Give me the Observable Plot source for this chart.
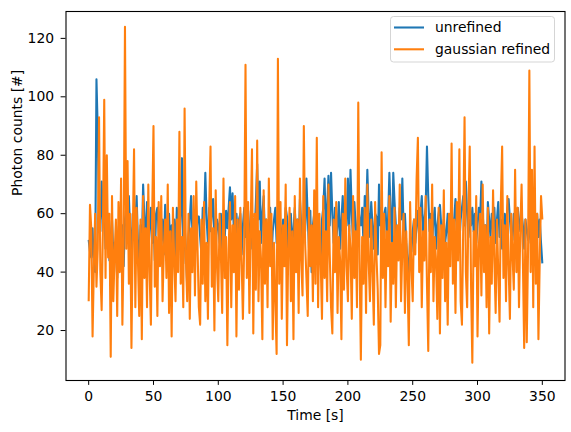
<!DOCTYPE html>
<html>
<head>
<meta charset="utf-8">
<script src="https://cdn.jsdelivr.net/npm/d3@7"></script>
<script src="https://cdn.jsdelivr.net/npm/@observablehq/plot@0.6"></script>
<style>
  html, body { margin: 0; padding: 0; background: #fff; }
  #chart { width: 571px; height: 432px; }
</style>
</head>
<body>
<div id="chart"></div>
<script>
const seriesNames = ["unrefined", "gaussian refined"];
const seriesColors = ["#1f77b4", "#ff7f0e"];
const xTicks = [0, 50, 100, 150, 200, 250, 300, 350];
const yTicks = [20, 40, 60, 80, 100, 120];
const xLabel = "Time [s]";
const yLabel = "Photon counts [#]";

const unrefined = [
  51, 47, 45, 55, 42, 40, 106, 88, 60, 54,
  71, 58, 62, 48, 55, 60, 44, 52, 58, 46,
  50, 50, 38, 54, 60, 47, 56, 42, 58, 62,
  50, 66, 54, 46, 60, 52, 58, 66, 50, 44,
  56, 48, 70, 58, 52, 64, 46, 55, 62, 50,
  58, 44, 60, 62, 54, 48, 51, 58, 46, 63,
  52, 54, 60, 48, 56, 50, 58, 44, 62, 54,
  50, 60, 79, 43, 56, 48, 35, 52, 58, 66,
  54, 48, 60, 52, 59, 59, 52, 46, 62, 56,
  74, 58, 50, 62, 54, 60, 65, 52, 48, 58,
  56, 50, 60, 45, 58, 52, 61, 55, 62, 69,
  58, 67, 54, 48, 60, 52, 58, 60, 46, 56,
  62, 52, 58, 61, 54, 48, 60, 56, 52, 64,
  77, 58, 71, 50, 60, 66, 52, 58, 48, 56,
  62, 44, 54, 58, 62, 50, 56, 60, 48, 54,
  58, 52, 62, 59, 46, 56, 60, 50, 54, 62,
  52, 58, 48, 65, 56, 50, 60, 54, 72, 58,
  48, 61, 40, 56, 60, 52, 57, 48, 52, 44,
  58, 62, 72, 54, 62, 73, 56, 74, 60, 50,
  62, 51, 56, 64, 48, 58, 66, 52, 60, 56,
  72, 54, 75, 60, 50, 64, 56, 48, 62, 58,
  56, 62, 50, 66, 58, 75, 60, 52, 64, 56,
  48, 60, 59, 46, 70, 56, 62, 54, 60, 62,
  52, 58, 74, 60, 50, 74, 64, 56, 48, 51,
  62, 58, 72, 54, 60, 50, 44, 38, 52, 47,
  54, 58, 50, 56, 61, 52, 60, 66, 54, 58,
  62, 83, 66, 54, 60, 50, 58, 62, 48, 56,
  60, 63, 56, 52, 58, 50, 54, 60, 48, 56,
  62, 52, 58, 65, 54, 60, 50, 58, 62, 66,
  56, 71, 60, 52, 58, 56, 62, 54, 60, 50,
  56, 62, 58, 71, 60, 52, 56, 44, 64, 58,
  52, 60, 56, 62, 50, 58, 64, 52, 58, 48,
  56, 60, 54, 62, 65, 58, 52, 51, 60, 56,
  50, 62, 58, 54, 60, 56, 48, 58, 54, 51,
  58, 50, 56, 62, 48, 54, 60, 52, 58, 50,
  43
];

const gaussianRefined = [
  30, 63, 55, 18, 42, 60, 35, 48, 93, 40,
  27, 55, 99, 38, 80, 45, 60, 11, 66, 30,
  46, 58, 25, 64, 40, 72, 22, 50, 124, 48,
  78, 36, 60, 14, 52, 82, 28, 62, 44, 25,
  58, 17, 66, 38, 55, 28, 70, 40, 22, 60,
  90, 35, 52, 25, 64, 42, 66, 30, 48, 58,
  38, 70, 26, 54, 18, 62, 44, 30, 58, 40,
  88, 36, 52, 28, 96, 45, 30, 60, 24, 55,
  40, 66, 32, 71, 48, 28, 22, 58, 36, 64,
  30, 50, 24, 62, 83, 35, 55, 20, 68, 42,
  30, 60, 46, 26, 72, 38, 52, 15, 48, 64,
  28, 56, 40, 66, 18, 58, 34, 62, 44, 24,
  50, 111, 38, 64, 26, 56, 82, 19, 60, 34,
  85, 30, 54, 44, 17, 68, 36, 58, 28, 72,
  42, 60, 17, 50, 30, 12, 113, 36, 64, 24,
  56, 42, 70, 15, 48, 62, 30, 54, 17, 66,
  40, 58, 26, 72, 44, 32, 90, 50, 38, 25,
  62, 42, 56, 30, 68, 36, 86, 28, 60, 44,
  24, 66, 38, 54, 30, 70, 46, 28, 19, 58,
  40, 64, 26, 52, 44, 17, 60, 34, 72, 42,
  30, 56, 48, 24, 66, 38, 54, 28, 98, 44,
  10, 52, 36, 62, 26, 70, 44, 30, 58, 40,
  22, 64, 46, 34, 12, 15, 81, 38, 60, 28,
  54, 42, 66, 23, 50, 36, 62, 28, 56, 44,
  70, 30, 48, 60, 26, 54, 38, 15, 64, 42,
  30, 58, 46, 72, 86, 40, 62, 28, 54, 44,
  66, 36, 13, 58, 40, 70, 30, 52, 44, 24,
  62, 19, 56, 38, 68, 30, 50, 22, 60, 42,
  84, 36, 58, 26, 64, 44, 82, 30, 22, 56,
  93, 40, 28, 62, 83, 36, 9, 54, 42, 66,
  18, 48, 60, 32, 70, 40, 56, 28, 62, 19,
  52, 36, 68, 44, 26, 58, 40, 23, 64, 83,
  38, 56, 30, 66, 42, 24, 60, 46, 34, 75,
  40, 62, 28, 54, 70, 44, 14, 58, 16, 48,
  109, 40, 75, 28, 83, 36, 60, 17, 44, 66,
  58
];

const allSeries = [unrefined, gaussianRefined];
const table = [];
allSeries.forEach((vals, s) => {
  vals.forEach((v, i) => table.push({ t: i, v, series: seriesNames[s] }));
});

const W = 571, H = 432;
const mL = 65.5, mR = 6.5, mT = 11, mB = 52;

const plot = Plot.plot({
  width: W,
  height: H,
  marginLeft: mL,
  marginRight: mR,
  marginTop: mT,
  marginBottom: mB,
  style: { fontFamily: "DejaVu Sans", fontSize: "13.9px", background: "#fff", color: "#000" },
  x: { domain: [-17.5, 367.5] },
  y: { domain: [2.9, 129.2] },
  color: { domain: seriesNames, range: seriesColors },
  marks: [
    Plot.line(table, { x: "t", y: "v", z: "series", stroke: "series", strokeWidth: 2.08, strokeLinejoin: "round", strokeLinecap: "butt" }),
    Plot.frame({ stroke: "#000", strokeWidth: 1.1 }),
    Plot.axisX({ ticks: xTicks, tickSize: 4.9, tickPadding: 6, label: null, tickFormat: d => String(d) }),
    Plot.axisY({ ticks: yTicks, tickSize: 4.9, tickPadding: 7, label: null, tickFormat: d => String(d) }),
    Plot.text([xLabel], { frameAnchor: "bottom", dy: 35, lineAnchor: "middle", fill: "#000", text: d => d }),
    Plot.text([yLabel], { frameAnchor: "left", dx: -48.5, rotate: -90, lineAnchor: "middle", fill: "#000", text: d => d })
  ]
});

document.getElementById("chart").appendChild(plot);

// Legend (upper right, inside the frame)
const svg = d3.select(plot);
const lg = svg.append("g").attr("class", "legend")
  .attr("text-anchor", "start").attr("fill", "none");
lg.append("rect")
  .attr("x", 390.5).attr("y", 16.5).attr("width", 164).attr("height", 45.5)
  .attr("rx", 3).attr("ry", 3)
  .attr("fill", "rgba(255,255,255,0.8)").attr("stroke", "#d5d5d5").attr("stroke-width", 1);
seriesNames.forEach((name, i) => {
  const cy = 27.5 + i * 21.8;
  lg.append("path").attr("d", `M394,${cy}H424`)
    .attr("fill", "none")
    .style("stroke", seriesColors[i]).style("stroke-width", "2.08px");
  lg.append("text").attr("x", 435).attr("y", cy).attr("dy", "0.35em")
    .attr("text-anchor", "start")
    .style("fill", "#000").style("font-size", "13.9px").style("font-family", "DejaVu Sans")
    .text(name);
});
</script>
</body>
</html>
